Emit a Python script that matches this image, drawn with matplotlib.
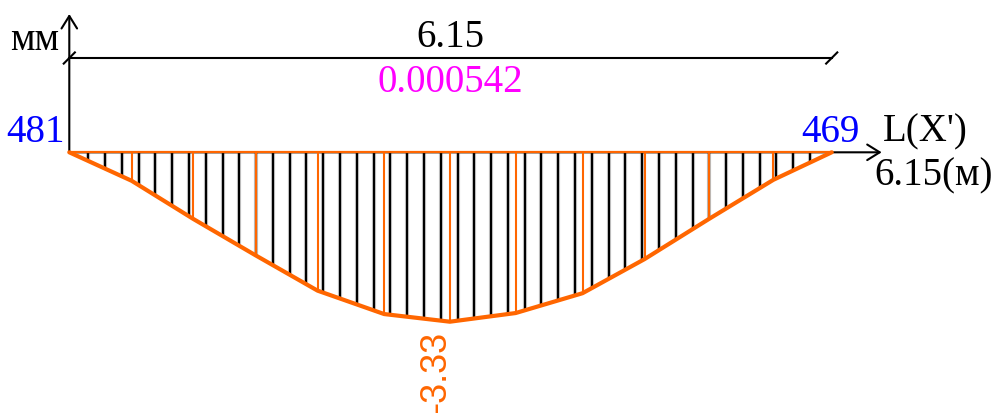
import numpy as np
import matplotlib
matplotlib.use("Agg")
import matplotlib.pyplot as plt
from matplotlib.patches import FancyArrowPatch
from matplotlib import font_manager

# ---------------- data ----------------
span_m = 6.15
node_x = [0.0, 0.503, 1.0, 1.506, 2.003, 2.540, 3.070, 3.600, 4.140, 4.640, 5.160, 5.680, 6.15]
deflection = [0.0, -0.56, -1.31, -2.03, -2.72, -3.18, -3.33, -3.16, -2.77, -2.10, -1.31, -0.54, 0.0]
left_label = "481"
right_label = "469"
span_label = "6.15"
ratio_label = "0.000542"
min_label = "-3.33"
y_unit = "мм"
x_name = "L(X')"
x_len_label = "6.15(м)"

# hatching pattern (decoration)
hatch_start = 0.153
hatch_step = 0.1354
hatch_count = 44

ORANGE = "#ff6600"
SERIF = ["Liberation Serif", "DejaVu Serif"]
installed = {f.name for f in font_manager.fontManager.ttflist}
if "Liberation Sans Narrow" in installed:
    SANS = ["Liberation Sans Narrow", "Liberation Sans"]
    min_fs = 30
else:
    SANS = ["Liberation Sans", "DejaVu Sans"]
    min_fs = 26

fig = plt.figure(figsize=(9.93, 4.14), dpi=100)
ax = fig.add_axes([0, 0, 1, 1])
ax.set_xlim(-0.559, 7.451)
ax.set_ylim(-5.125, 3.014)
ax.axis("off")

nx = np.array(node_x)
nd = np.array(deflection)

# hatching lines
hx = hatch_start + hatch_step * np.arange(hatch_count)
hy = np.interp(hx, nx, nd)
for x, y in zip(hx, hy):
    ax.plot([x, x], [0, y], color="#c4c4c4", lw=3.0, solid_capstyle="butt", zorder=2)
    ax.plot([x, x], [0, y], color="black", lw=1.5, solid_capstyle="butt", zorder=3)

# x axis (black) with arrow
x_tip = 6.553
ax.add_patch(FancyArrowPatch((0, 0), (x_tip, 0), arrowstyle="->,head_length=0.45,head_width=0.28",
                             mutation_scale=20, color="black", lw=1.5, shrinkA=0, shrinkB=0, zorder=4))
# y axis with arrow
y_tip = 2.719
ax.add_patch(FancyArrowPatch((0, 0), (0, y_tip), arrowstyle="->,head_length=0.45,head_width=0.28",
                             mutation_scale=20, color="black", lw=1.5, shrinkA=0, shrinkB=0, zorder=4))

# orange baseline
ax.plot([nx[0], nx[-1]], [0, 0], color=ORANGE, lw=1.6, zorder=5)

# orange node verticals
for x, y in zip(nx[1:-1], nd[1:-1]):
    ax.plot([x, x], [0, y], color=ORANGE, lw=1.5, solid_capstyle="butt", zorder=5)

# deflection polyline
ax.plot(nx, nd, color=ORANGE, lw=3.0, solid_joinstyle="round", solid_capstyle="round", zorder=6)

# dimension line
dim_y = 1.854
ax.plot([0, span_m], [dim_y, dim_y], color="black", lw=1.5, zorder=4)
for xe in (0, span_m):
    ax.plot([xe - 0.045, xe + 0.045], [dim_y - 0.11, dim_y + 0.11], color="black", lw=1.5, zorder=4)

fs = 28
ax.text(span_m / 2, 2.096, span_label, ha="center", va="baseline", fontsize=fs, family=SERIF, color="black")
ax.text(span_m / 2, 1.211, ratio_label, ha="center", va="baseline", fontsize=fs, family=SERIF, color="#ff00ff")
ax.text(-0.083, 2.031, y_unit, ha="right", va="baseline", fontsize=fs, family=SERIF, color="black")
ax.text(-0.035, 0.228, left_label, ha="right", va="baseline", fontsize=fs, family=SERIF, color="#0000ff")
ax.text(span_m - 0.014, 0.228, right_label, ha="center", va="baseline", fontsize=fs, family=SERIF, color="#0000ff")
ax.text(6.566, 0.228, x_name, ha="left", va="baseline", fontsize=fs, family=SERIF, color="black")
ax.text(6.494, -0.623, x_len_label, ha="left", va="baseline", fontsize=fs, family=SERIF, color="black")

imin = int(np.argmin(nd))
ax.text(nx[imin] - 0.112, nd[imin] - 0.16, min_label, rotation=90, ha="center", va="top",
        fontsize=min_fs, family=SANS, color=ORANGE)

fig.savefig("out.png", dpi=100, facecolor="white")
